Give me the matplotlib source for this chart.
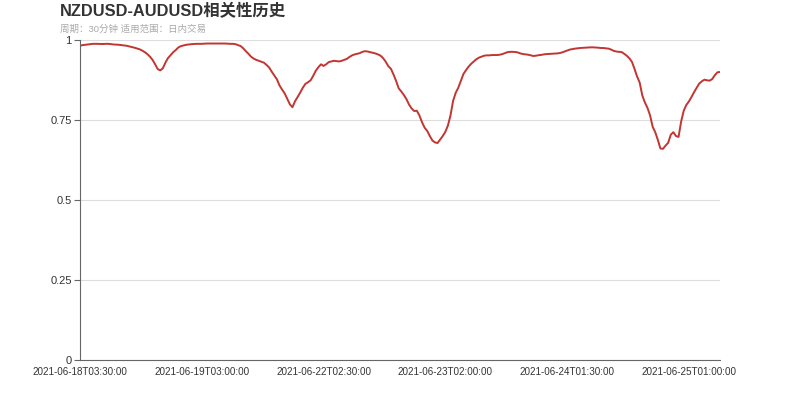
import numpy as np
import matplotlib
matplotlib.use('Agg')
import matplotlib.pyplot as plt

# Correlation values, one per 30-minute bar
corr = [
    0.982, 0.984, 0.985, 0.986, 0.987, 0.988, 0.988, 0.988, 0.9875, 0.9875,
    0.988, 0.988, 0.987, 0.986, 0.9855, 0.985, 0.984, 0.983, 0.982, 0.980,
    0.978, 0.976, 0.9735, 0.971, 0.967, 0.962, 0.956, 0.948, 0.938, 0.924,
    0.909, 0.905, 0.912, 0.930, 0.944, 0.953, 0.962, 0.969, 0.977, 0.981,
    0.983, 0.985, 0.986, 0.987, 0.9875, 0.988, 0.988, 0.988, 0.9885, 0.989,
    0.989, 0.989, 0.989, 0.989, 0.989, 0.989, 0.989, 0.9885, 0.988, 0.988,
    0.987, 0.984, 0.981, 0.974, 0.965, 0.957, 0.948, 0.942, 0.938, 0.935,
    0.932, 0.929, 0.922, 0.914, 0.901, 0.889, 0.877, 0.858, 0.845, 0.833,
    0.816, 0.799, 0.790, 0.809, 0.822, 0.836, 0.851, 0.863, 0.868, 0.874,
    0.888, 0.904, 0.915, 0.924, 0.919, 0.924, 0.931, 0.933, 0.935, 0.934,
    0.933, 0.935, 0.938, 0.941, 0.947, 0.952, 0.955, 0.957, 0.959, 0.963,
    0.965, 0.964, 0.962, 0.960, 0.958, 0.955, 0.951, 0.943, 0.932, 0.918,
    0.910, 0.892, 0.872, 0.849, 0.839, 0.828, 0.815, 0.798, 0.786, 0.778,
    0.779, 0.764, 0.743, 0.726, 0.716, 0.700, 0.686, 0.680, 0.678, 0.689,
    0.700, 0.713, 0.733, 0.765, 0.810, 0.835, 0.851, 0.873, 0.894, 0.906,
    0.917, 0.926, 0.933, 0.940, 0.945, 0.948, 0.951, 0.952, 0.952, 0.953,
    0.953, 0.953, 0.954, 0.956, 0.959, 0.962, 0.963, 0.963, 0.9625, 0.961,
    0.958, 0.956, 0.955, 0.954, 0.952, 0.950, 0.951, 0.9525, 0.9535, 0.955,
    0.956, 0.9565, 0.957, 0.9575, 0.958, 0.959, 0.961, 0.964, 0.967, 0.970,
    0.9715, 0.973, 0.974, 0.975, 0.9755, 0.976, 0.9765, 0.977, 0.977, 0.9765,
    0.976, 0.975, 0.975, 0.974, 0.973, 0.970, 0.966, 0.964, 0.963, 0.9625,
    0.957, 0.951, 0.943, 0.932, 0.910, 0.886, 0.867, 0.827, 0.805, 0.788,
    0.765, 0.729, 0.712, 0.688, 0.661, 0.660, 0.670, 0.679, 0.704, 0.712,
    0.700, 0.697, 0.745, 0.779, 0.797, 0.808, 0.822, 0.837, 0.851, 0.864,
    0.871, 0.876, 0.874, 0.873, 0.878, 0.890, 0.899, 0.900,
]

# x-axis labels shown every 47 bars
tick_labels = [
    '2021-06-18T03:30:00', '2021-06-19T03:00:00', '2021-06-22T02:30:00',
    '2021-06-23T02:00:00', '2021-06-24T01:30:00', '2021-06-25T01:00:00',
]
label_step = 47

y_ticks = [0, 0.25, 0.5, 0.75, 1]
y_tick_labels = ['0', '0.25', '0.5', '0.75', '1']

title = 'NZDUSD-AUDUSD相关性历史'
subtitle = '周期：30分钟 适用范围：日内交易'

plt.rcParams['font.family'] = ['Liberation Sans', 'Noto Sans CJK SC', 'DejaVu Sans']

fig = plt.figure(figsize=(8, 4), dpi=100)
ax = fig.add_axes([0.1, 0.1, 0.8, 0.8])

x = np.arange(len(corr))
ax.plot(x, corr, color='#c23531', linewidth=1.4, solid_joinstyle='round')

ax.set_xlim(0, len(corr) - 1)
ax.set_ylim(0, 1)

ax.set_xticks(x[::label_step][:len(tick_labels)])
ax.set_xticklabels(tick_labels, fontsize=7.1, color='#333333')
ax.tick_params(axis='x', length=0, pad=5)

ax.set_yticks(y_ticks)
ax.set_yticklabels(y_tick_labels, fontsize=8, color='#333333')
ax.tick_params(axis='y', length=4, width=0.8, color='#666666', pad=2)

ax.grid(axis='y', color='#dddddd', linewidth=0.8)
ax.set_axisbelow(True)
for side in ['top', 'right']:
    ax.spines[side].set_visible(False)
for side in ['left', 'bottom']:
    ax.spines[side].set_color('#666666')
    ax.spines[side].set_linewidth(0.8)

fig.text(60 / 800, 1 - 3 / 400, title, fontsize=11.8, fontweight='bold',
         color='#333333', va='top', ha='left')
fig.text(60 / 800, 1 - 29 / 400, subtitle, fontsize=6.8, color='#aaaaaa',
         va='center', ha='left')

fig.savefig('out.png', dpi=100)
